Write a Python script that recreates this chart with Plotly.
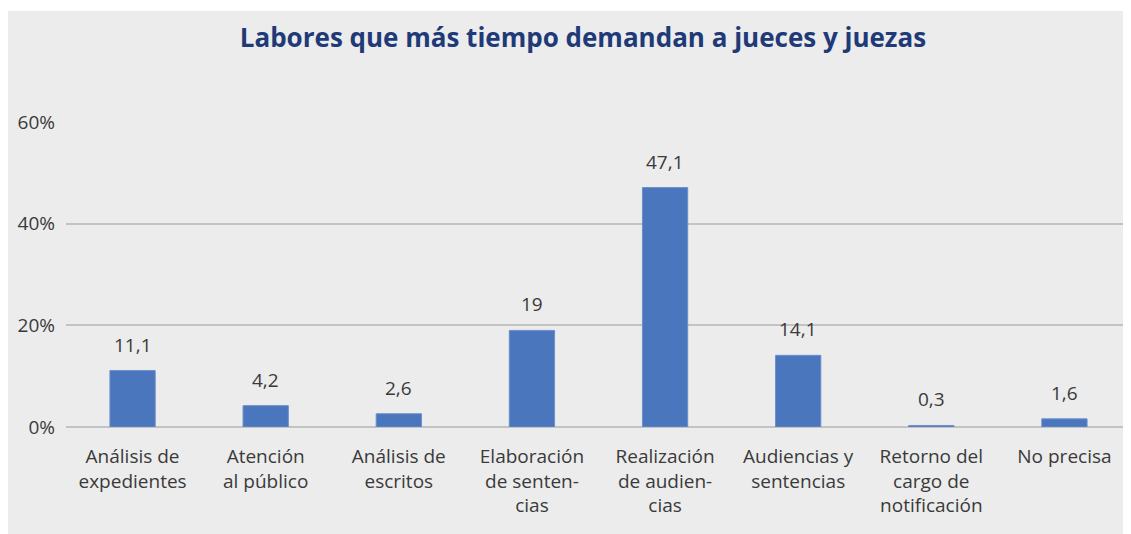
import plotly.graph_objects as go

# data
CATEGORIES = [
    "Análisis de<br>expedientes",
    "Atención<br>al público",
    "Análisis de<br>escritos",
    "Elaboración<br>de senten-<br>cias",
    "Realización<br>de audien-<br>cias",
    "Audiencias y<br>sentencias",
    "Retorno del<br>cargo de<br>notificación",
    "No precisa",
]
VALUES = [11.1, 4.2, 2.6, 19, 47.1, 14.1, 0.3, 1.6]
Y_TICKS = [0, 20, 40, 60]

TITLE = "Labores que más tiempo demandan a jueces y juezas"

# styles
BG_COLOR = "#ececec"
BAR_COLOR = "#4a76bd"
GRID_COLOR = "#c3c3c3"
TEXT_COLOR = "#3a3a3a"
TITLE_COLOR = "#1f3a78"
FONT = "Open Sans, Lato, sans-serif"

# the page body adds an 8px offset on the left and top
W, H = 1123, 526
MARGIN = dict(l=58, r=0, t=114, b=107)


def fmt(v: float) -> str:
    return f"{v:g}".replace(".", ",")


fig = go.Figure()
fig.add_trace(go.Bar(
    x=CATEGORIES,
    y=VALUES,
    marker_color=BAR_COLOR,
    marker_line_color="#6a8fcc",
    marker_line_width=1,
    hoverinfo="skip",
))

for c, v in zip(CATEGORIES, VALUES):
    fig.add_annotation(
        x=c, y=v, text=fmt(v), showarrow=False,
        yanchor="bottom", yshift=11,
        font=dict(size=19, color=TEXT_COLOR, family=FONT),
    )

# light gray panel, leaving a thin white strip at the top
plot_w = W - MARGIN["l"] - MARGIN["r"]
plot_h = H - MARGIN["t"] - MARGIN["b"]
fig.add_shape(
    type="rect", xref="paper", yref="paper", layer="below",
    x0=-MARGIN["l"] / plot_w - 0.01, x1=1.05,
    y0=-0.5, y1=(H - MARGIN["b"] - 3) / plot_h,
    fillcolor=BG_COLOR, line_width=0,
)

fig.update_layout(
    width=W,
    height=H,
    margin=MARGIN,
    paper_bgcolor="white",
    plot_bgcolor=BG_COLOR,
    showlegend=False,
    bargap=0.66,
    font=dict(family=FONT, color=TEXT_COLOR, size=19),
    title=dict(
        text=f"<b>{TITLE}</b>",
        x=0.512, xanchor="center",
        y=1 - 30 / H, yanchor="middle",
        font=dict(size=26, color=TITLE_COLOR, family=FONT),
    ),
    xaxis=dict(
        showgrid=False,
        showline=False,
        ticks="",
        tickfont=dict(size=19, color=TEXT_COLOR),
        tickangle=0,
        ticklabelstandoff=16,
    ),
    yaxis=dict(
        range=[0, 60],
        tickvals=Y_TICKS,
        ticktext=[f"{t}%" for t in Y_TICKS],
        showgrid=True,
        gridcolor=GRID_COLOR,
        gridwidth=2,
        zeroline=True,
        zerolinecolor=GRID_COLOR,
        zerolinewidth=2,
        tickfont=dict(size=19, color=TEXT_COLOR),
        ticklabelstandoff=10,
    ),
)

fig.write_html("out.html")
